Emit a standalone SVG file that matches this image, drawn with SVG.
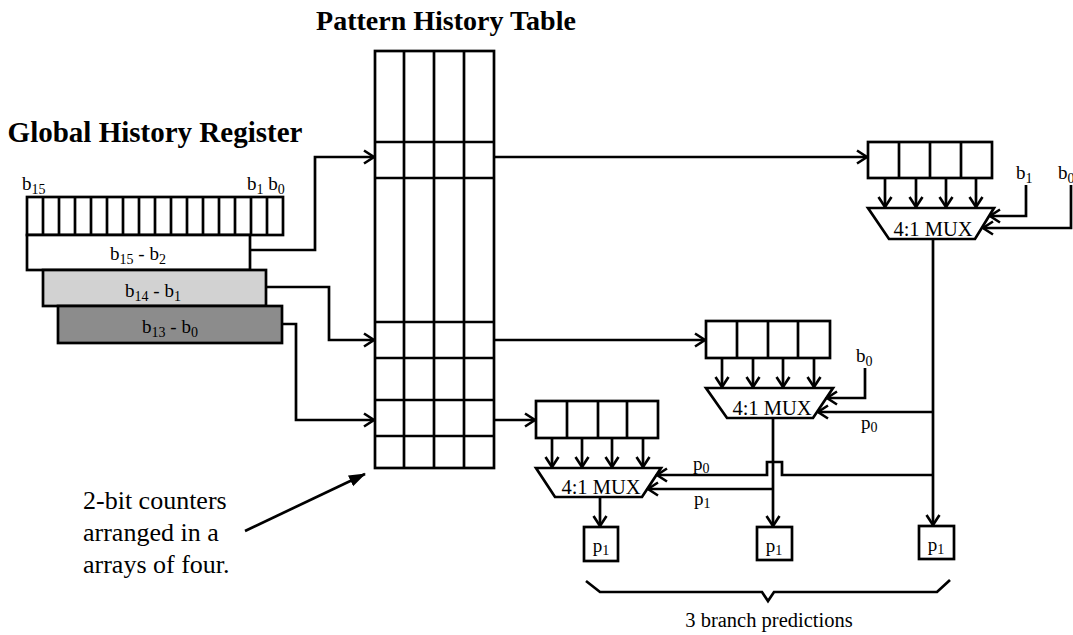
<svg xmlns="http://www.w3.org/2000/svg" width="1073" height="635" viewBox="0 0 1073 635">
<defs>
<style>
.ln{fill:none;stroke:#000;stroke-width:2.7}
.bx{fill:#fff;stroke:#000;stroke-width:2.7}
.t{font-family:"Liberation Serif","Times New Roman",serif;fill:#000}
.title{font-size:28px;font-weight:bold}
.lbl{font-size:19px}
.mux{font-size:20.5px}
.ann{font-size:26px}
.sub{font-size:14px}
</style>
<marker id="arr" markerWidth="14" markerHeight="16" refX="12" refY="8" orient="auto" markerUnits="userSpaceOnUse">
<path d="M2,1.5 L12,8 L2,14.5" fill="none" stroke="#000" stroke-width="2.6"/>
</marker>
<marker id="farr" markerWidth="18" markerHeight="14" refX="16" refY="7" orient="auto" markerUnits="userSpaceOnUse">
<path d="M0,1 L17,7 L0,13 z" fill="#000"/>
</marker>
</defs>
<rect width="1073" height="635" fill="#fff"/>

<g id="titles">
<text class="t title" x="446" y="30" text-anchor="middle">Pattern History Table</text>
<text class="t title" x="155" y="142" text-anchor="middle" style="font-size:29px">Global History Register</text>
</g>

<g id="ghr">
<rect class="bx" x="27" y="197" width="256" height="38"/>
<path class="ln" d="M43,197V235M59,197V235M75,197V235M91,197V235M107,197V235M123,197V235M139,197V235M155,197V235M171,197V235M187,197V235M203,197V235M219,197V235M235,197V235M251,197V235M267,197V235"/>
<text class="t lbl" x="22" y="190">b<tspan class="sub" dy="4">15</tspan></text>
<text class="t lbl" x="247" y="190">b<tspan class="sub" dy="4">1</tspan><tspan dy="-4"> b</tspan><tspan class="sub" dy="4">0</tspan></text>
</g>

<g id="sel-b15-b2">
<rect class="bx" x="27" y="235" width="223" height="35"/>
<text class="t lbl" x="138" y="260" text-anchor="middle">b<tspan class="sub" dy="4">15</tspan><tspan dy="-4"> - b</tspan><tspan class="sub" dy="4">2</tspan></text>
</g>
<g id="sel-b14-b1">
<rect x="43" y="270" width="223" height="36" fill="#d2d2d2" stroke="#000" stroke-width="2.7"/>
<text class="t lbl" x="153" y="297" text-anchor="middle">b<tspan class="sub" dy="4">14</tspan><tspan dy="-4"> - b</tspan><tspan class="sub" dy="4">1</tspan></text>
</g>
<g id="sel-b13-b0">
<rect x="58" y="306" width="224" height="37" fill="#8c8c8c" stroke="#000" stroke-width="2.7"/>
<text class="t lbl" x="170" y="333" text-anchor="middle">b<tspan class="sub" dy="4">13</tspan><tspan dy="-4"> - b</tspan><tspan class="sub" dy="4">0</tspan></text>
</g>

<g id="pht">
<rect class="bx" x="375" y="51" width="119" height="417"/>
<path class="ln" d="M404,51V468M434,51V468M464,51V468M375,142H494M375,178H494M375,322H494M375,358H494M375,400H494M375,436H494"/>
</g>

<g id="reg-top">
<rect class="bx" x="868" y="142" width="124" height="36"/>
<path class="ln" d="M899,142V178M930,142V178M961,142V178"/>
</g>
<g id="mux-top">
<path class="bx" d="M868,208H994L975,239H889Z"/>
<text class="t mux" x="933" y="236" text-anchor="middle">4:1 MUX</text>
</g>
<g id="reg-mid">
<rect class="bx" x="706" y="321" width="124" height="37"/>
<path class="ln" d="M737,321V358M768,321V358M798,321V358"/>
</g>
<g id="mux-mid">
<path class="bx" d="M706,388H833L813,418H727Z"/>
<text class="t mux" x="772" y="415" text-anchor="middle">4:1 MUX</text>
</g>
<g id="reg-bot">
<rect class="bx" x="536" y="401" width="122" height="37"/>
<path class="ln" d="M567,401V438M598,401V438M627,401V438"/>
</g>
<g id="mux-bot">
<path class="bx" d="M536,468H661L642,497H555Z"/>
<text class="t mux" x="601" y="494" text-anchor="middle">4:1 MUX</text>
</g>

<g id="pred1">
<rect class="bx" x="584" y="527" width="34" height="34"/>
<text class="t lbl" x="601" y="552" text-anchor="middle">p<tspan class="sub" dy="3">1</tspan></text>
</g>
<g id="pred2">
<rect class="bx" x="757" y="527" width="35" height="33"/>
<text class="t lbl" x="774" y="552" text-anchor="middle">p<tspan class="sub" dy="3">1</tspan></text>
</g>
<g id="pred3">
<rect class="bx" x="919" y="526" width="35" height="33"/>
<text class="t lbl" x="936" y="551" text-anchor="middle">p<tspan class="sub" dy="3">1</tspan></text>
</g>

<g id="connectors">
<path class="ln" d="M250,250H315V157H374" marker-end="url(#arr)"/>
<path class="ln" d="M266,287H329V340H374" marker-end="url(#arr)"/>
<path class="ln" d="M282,324H296V420H374" marker-end="url(#arr)"/>
<path class="ln" d="M494,157H867" marker-end="url(#arr)"/>
<path class="ln" d="M494,340H705" marker-end="url(#arr)"/>
<path class="ln" d="M494,420H535" marker-end="url(#arr)"/>
<path class="ln" d="M885,178V207" marker-end="url(#arr)"/>
<path class="ln" d="M916,178V207" marker-end="url(#arr)"/>
<path class="ln" d="M946,178V207" marker-end="url(#arr)"/>
<path class="ln" d="M976,178V207" marker-end="url(#arr)"/>
<path class="ln" d="M722,358V387" marker-end="url(#arr)"/>
<path class="ln" d="M753,358V387" marker-end="url(#arr)"/>
<path class="ln" d="M783,358V387" marker-end="url(#arr)"/>
<path class="ln" d="M814,358V387" marker-end="url(#arr)"/>
<path class="ln" d="M552,438V467" marker-end="url(#arr)"/>
<path class="ln" d="M582,438V467" marker-end="url(#arr)"/>
<path class="ln" d="M612,438V467" marker-end="url(#arr)"/>
<path class="ln" d="M643,438V467" marker-end="url(#arr)"/>
<path class="ln" d="M1026,185V216H990" marker-end="url(#arr)"/>
<path class="ln" d="M1071,185V228H983" marker-end="url(#arr)"/>
<path class="ln" d="M865,368V398H827" marker-end="url(#arr)"/>
<path class="ln" d="M933,239V525" marker-end="url(#arr)"/>
<path class="ln" d="M933,412H818" marker-end="url(#arr)"/>
<path class="ln" d="M773,418V526" marker-end="url(#arr)"/>
<path class="ln" d="M933,475H782V462H767V475H657" marker-end="url(#arr)"/>
<path class="ln" d="M773,489H648" marker-end="url(#arr)"/>
<path class="ln" d="M600,497V526" marker-end="url(#arr)"/>
<path class="ln" d="M245,531L365,474" marker-end="url(#farr)"/>
<path class="ln" d="M586,581L600,592H762L768,601L774,592H937L950,580"/>
</g>

<g id="labels">
<text class="t lbl" x="1016" y="179">b<tspan class="sub" dy="4">1</tspan></text>
<text class="t lbl" x="1058" y="179">b<tspan class="sub" dy="4">0</tspan></text>
<text class="t lbl" x="856" y="362">b<tspan class="sub" dy="4">0</tspan></text>
<text class="t lbl" x="861" y="429">p<tspan class="sub" dy="3">0</tspan></text>
<text class="t lbl" x="693" y="470">p<tspan class="sub" dy="3">0</tspan></text>
<text class="t lbl" x="694" y="505">p<tspan class="sub" dy="3">1</tspan></text>
<text class="t ann" x="83" y="509">2-bit counters</text>
<text class="t ann" x="83" y="541">arranged in a</text>
<text class="t ann" x="83" y="573">arrays of four.</text>
<text class="t mux" x="769" y="627" text-anchor="middle">3 branch predictions</text>
</g>
</svg>
